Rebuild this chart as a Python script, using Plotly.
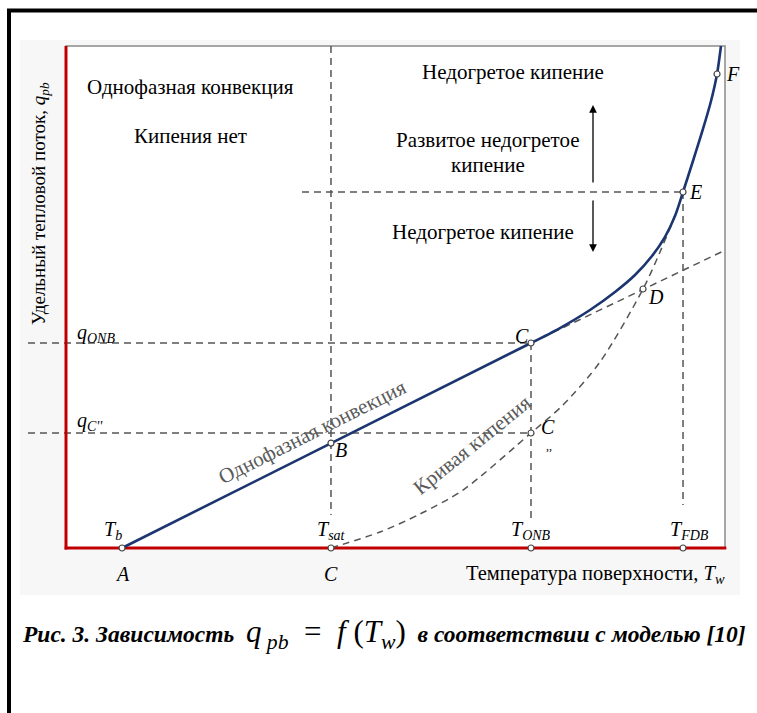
import plotly.graph_objects as go

# ---------------- data (arbitrary units: T 0..100, q 0..100) ----------------
t_conv = [8.5, 70.56]
q_conv = [0.0, 40.84]

t_boil_total = [70.56, 74.96, 79.51, 83.31, 86.34, 88.92, 90.90, 92.41, 93.63, 95.14, 96.66, 97.88, 98.79, 99.39]
q_boil_total = [40.84, 43.82, 47.41, 51.00, 54.38, 58.17, 61.99, 66.14, 70.92, 77.09, 83.47, 89.04, 94.42, 100.0]

t_ext = [70.56, 99.5]
q_ext = [40.84, 59.0]

t_boil_curve = [40.21, 47.65, 53.72, 60.24, 70.56, 75.42, 81.03, 87.56, 90.14, 92.56]
q_boil_curve = [0.0, 3.19, 6.77, 11.55, 22.91, 28.49, 37.05, 51.59, 58.96, 66.73]

T_b, T_sat, T_onb, T_fdb = 8.5, 40.21, 70.56, 93.63
q_B, q_onb, q_c2, q_D, q_E, q_F = 20.9, 40.84, 22.91, 51.59, 70.92, 94.42
T_D, T_F = 87.56, 98.79

pt_T = [T_b, T_sat, T_onb, T_fdb, T_sat, T_onb, T_onb, T_D, T_fdb, T_F]
pt_q = [0, 0, 0, 0, q_B, q_onb, q_c2, q_D, q_E, q_F]

# ---------------- pixel helpers (layout only) ----------------
W, H = 757, 713
PX0, PY0, SX, SY = 66, 548, 6.59, 5.02


def X(px):
    return (px - PX0) / SX


def Y(py):
    return (PY0 - py) / SY


def xp(px):
    return px / W


def yp(py):
    return 1 - py / H


SERIF = "Liberation Serif, Times New Roman, serif"
NAVY = "#1b3570"
DGRAY = "#555555"
RED = "#c00000"
DASH = "7px,5px"

fig = go.Figure()

# reference dashed lines
ref_lines = [
    ([X(28), T_onb], [q_onb, q_onb]),
    ([X(28), T_onb], [q_c2, q_c2]),
    ([T_sat, T_sat], [100, Y(515)]),
    ([T_onb, T_onb], [q_onb, Y(520)]),
    ([T_fdb, T_fdb], [q_E, Y(505)]),
    ([X(302), T_fdb], [q_E, q_E]),
]
for xs, ys in ref_lines:
    fig.add_trace(go.Scatter(x=xs, y=ys, mode="lines",
                             line=dict(color=DGRAY, width=1.5, dash=DASH),
                             hoverinfo="skip", showlegend=False))

# extension of convection line
fig.add_trace(go.Scatter(x=t_ext, y=q_ext, mode="lines",
                         line=dict(color=DGRAY, width=1.5, dash=DASH),
                         showlegend=False))
# boiling curve
fig.add_trace(go.Scatter(x=t_boil_curve, y=q_boil_curve, mode="lines",
                         line=dict(color=DGRAY, width=1.5, dash=DASH, shape="spline", smoothing=0.8),
                         showlegend=False))
# main curve
fig.add_trace(go.Scatter(x=t_conv, y=q_conv, mode="lines",
                         line=dict(color=NAVY, width=2.6), showlegend=False))
fig.add_trace(go.Scatter(x=t_boil_total, y=q_boil_total, mode="lines",
                         line=dict(color=NAVY, width=2.6, shape="spline", smoothing=0.8),
                         showlegend=False))
# points
fig.add_trace(go.Scatter(x=pt_T, y=pt_q, mode="markers",
                         marker=dict(size=6, color="white", line=dict(color="#444", width=1.2)),
                         cliponaxis=False, showlegend=False))

shapes = [
    # light grey figure background
    dict(type="rect", xref="paper", yref="paper", x0=xp(20), x1=xp(740), y0=yp(595), y1=yp(40),
         fillcolor="#f7f7f7", line=dict(width=0), layer="below"),
    # plot box
    dict(type="rect", xref="x", yref="y", x0=0, x1=100, y0=0, y1=100,
         fillcolor="white", line=dict(color="#8a8a8a", width=1.5), layer="below"),
    dict(type="line", xref="x", yref="y", x0=0, x1=0, y0=-0.3, y1=100,
         line=dict(color=RED, width=3)),
    dict(type="line", xref="x", yref="y", x0=-0.2, x1=100.2, y0=0, y1=0,
         line=dict(color=RED, width=3), layer="below"),
    # black page frame
    dict(type="line", xref="paper", yref="paper", x0=xp(9), x1=xp(9), y0=0, y1=yp(9),
         line=dict(color="black", width=4)),
    dict(type="line", xref="paper", yref="paper", x0=xp(7), x1=1, y0=yp(10.5), y1=yp(10.5),
         line=dict(color="black", width=4)),
]

annotations = []


def txt(px, py, text, size=20, color="black", angle=0, xanchor="center"):
    annotations.append(dict(x=X(px), y=Y(py), xref="x", yref="y", text=text, showarrow=False,
                            font=dict(family=SERIF, size=size, color=color), textangle=angle,
                            xanchor=xanchor, yanchor="middle"))


# region labels
txt(190, 87, "Однофазная конвекция", size=21)
txt(190, 136, "Кипения нет", size=21)
txt(513, 72, "Недогретое кипение", size=21)
txt(488, 140, "Развитое недогретое", size=21)
txt(488, 165, "кипение", size=21)
txt(483, 232, "Недогретое кипение", size=21)
txt(312, 432, "Однофазная конвекция", size=21, color="#5a5a5a", angle=-26.6)
txt(472, 445, "Кривая кипения", size=21, color="#5a5a5a", angle=-39)

# axis marks
txt(113, 530, "<i>T</i><sub><i>b</i></sub>")
txt(331, 530, "<i>T</i><sub><i>sat</i></sub>")
txt(531, 530, "<i>T</i><sub><i>ONB</i></sub>")
txt(689, 530, "<i>T</i><sub><i>FDB</i></sub>")
txt(122, 574, "<i>A</i>")
txt(331, 574, "<i>C</i>")
txt(464, 574, "Температура поверхности, <i>T</i><sub><i>w</i></sub>", size=20.5, xanchor="left")
txt(75, 333, "<i>q</i><sub><i>ONB</i></sub>", xanchor="left")
txt(75, 421, "<i>q</i><sub><i>C''</i></sub>", xanchor="left")

# point labels
txt(341, 450, "<i>B</i>")
txt(522, 336, "<i>C</i>")
txt(548, 427, "<i>C</i>")
txt(549, 446, ",,", size=12)
txt(656, 297, "<i>D</i>")
txt(695, 192, "<i>E</i>")
txt(733, 74, "<i>F</i>")

# arrows
for head, tail in [(105, 184), (252, 199)]:
    annotations.append(dict(x=X(593), y=Y(head), ax=X(593), ay=Y(tail), xref="x", yref="y",
                            axref="x", ayref="y", text="", showarrow=True, arrowhead=2,
                            arrowsize=1.2, arrowwidth=1.3, arrowcolor="black"))

# y-axis title
annotations.append(dict(x=xp(40), y=yp(204), xref="paper", yref="paper",
                        xanchor="center", yanchor="middle",
                        text="Удельный тепловой поток, <i>q</i><sub><i>pb</i></sub>",
                        showarrow=False, textangle=-90,
                        font=dict(family=SERIF, size=19, color="black")))

# caption
annotations.append(dict(x=xp(20), y=yp(634), xref="paper", yref="paper", xanchor="left", yanchor="middle",
                        text="<b><i>Рис. 3. Зависимость</i></b>  "
                             "<span style='font-size:31px'><i>q</i><sub> <i>pb</i></sub>  =  <i>f</i> (<i>T</i><sub><i>w</i></sub>)</span>"
                             "  <b><i>в соответствии с моделью [10]</i></b>",
                        showarrow=False, font=dict(family=SERIF, size=23.5, color="black")))

fig.update_layout(
    width=W, height=H, margin=dict(l=0, r=0, t=0, b=0),
    paper_bgcolor="white", plot_bgcolor="white",
    font=dict(family=SERIF),
    shapes=shapes, annotations=annotations, showlegend=False,
    xaxis=dict(range=[X(0), X(W)], domain=[0, 1], visible=False, fixedrange=True),
    yaxis=dict(range=[Y(H), Y(0)], domain=[0, 1], visible=False, fixedrange=True),
)

fig.write_html("out.html", config={"displayModeBar": False},
               post_script="document.body.style.margin='0px';document.body.style.overflow='hidden';")
